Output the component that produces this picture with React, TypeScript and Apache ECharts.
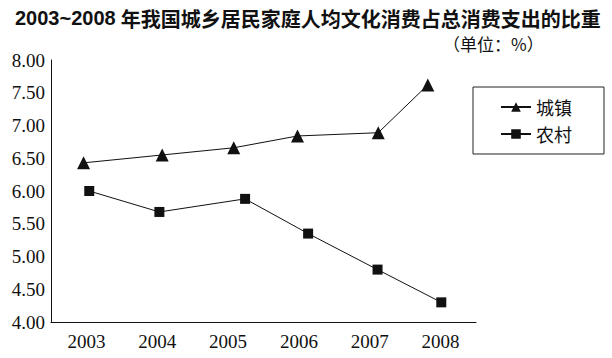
import React, { useEffect, useRef } from "react";
import * as echarts from "echarts";

const years = ["2003", "2004", "2005", "2006", "2007", "2008"];
const urbanX = [2002.96, 2004.07, 2005.08, 2005.98, 2007.12, 2007.82];
const urbanValues = [6.43, 6.55, 6.66, 6.84, 6.89, 7.62];
const ruralX = [2003.04, 2004.03, 2005.24, 2006.13, 2007.11, 2008.01];
const ruralValues = [6.0, 5.68, 5.88, 5.35, 4.8, 4.3];
const seriesNames = ["城镇", "农村"];
const titleYears = "2003~2008";
const titleRest = "年我国城乡居民家庭人均文化消费占总消费支出的比重";
const unitText = "（单位：%）";

export default function App() {
  const ref = useRef<HTMLDivElement>(null);
  useEffect(() => {
    if (!ref.current) return;
    const chart = echarts.init(ref.current, undefined, { renderer: "svg" });
    const serif = "'Liberation Serif', 'Times New Roman', serif";
    const cjk = "'Noto Sans CJK SC', sans-serif";
    chart.setOption({
      animation: false,
      backgroundColor: "#ffffff",
      title: {
        text: `{d|${titleYears}} {c|${titleRest}}`,
        left: 10,
        top: 3,
        textStyle: {
          rich: {
            d: {
              fontFamily: "'Liberation Sans', sans-serif",
              fontWeight: "bold",
              fontSize: 20,
              color: "#111",
            },
            c: {
              fontFamily: cjk,
              fontWeight: "bold",
              fontSize: 20,
              color: "#111",
            },
          },
        },
      },
      graphic: [
        {
          type: "text",
          left: 443,
          top: 35,
          style: { text: unitText, font: `17px ${cjk}`, fill: "#111" },
        },
      ],
      legend: {
        orient: "vertical",
        left: 473,
        top: 87,
        padding: [11, 32, 11, 27],
        borderColor: "#222",
        borderWidth: 1,
        itemWidth: 30,
        itemHeight: 12,
        itemGap: 9,
        textStyle: { fontFamily: cjk, fontSize: 18, color: "#111" },
        data: seriesNames,
      },
      grid: { left: 51, right: 136, top: 60, bottom: 36 },
      xAxis: [
        {
          type: "category",
          data: years,
          boundaryGap: true,
          axisLine: { lineStyle: { color: "#111", width: 1 } },
          axisTick: { inside: true, length: 7, lineStyle: { color: "#111" } },
          axisLabel: {
            margin: 10,
            fontFamily: serif,
            fontSize: 19,
            color: "#111",
          },
          splitLine: { show: false },
        },
        {
          type: "value",
          min: 2002.5,
          max: 2008.5,
          show: false,
          splitLine: { show: false },
        },
      ],
      yAxis: {
        type: "value",
        min: 4,
        max: 8,
        interval: 0.5,
        axisLine: { show: true, lineStyle: { color: "#111", width: 1 } },
        axisTick: { show: false },
        splitLine: { show: false },
        axisLabel: {
          margin: 6,
          fontFamily: serif,
          fontSize: 19,
          color: "#111",
          formatter: (v: number) => v.toFixed(2),
        },
      },
      series: [
        {
          name: seriesNames[0],
          type: "line",
          xAxisIndex: 1,
          data: urbanX.map((x, i) => [x, urbanValues[i]]),
          symbol: "triangle",
          symbolSize: 13,
          lineStyle: { color: "#111", width: 1 },
          itemStyle: { color: "#111" },
        },
        {
          name: seriesNames[1],
          type: "line",
          xAxisIndex: 1,
          data: ruralX.map((x, i) => [x, ruralValues[i]]),
          symbol: "rect",
          symbolSize: 10,
          lineStyle: { color: "#111", width: 1 },
          itemStyle: { color: "#111" },
        },
      ],
    });
    return () => chart.dispose();
  }, []);
  return (
    <div
      ref={ref}
      style={{ position: "fixed", left: 0, top: 0, width: 612, height: 358 }}
    />
  );
}
